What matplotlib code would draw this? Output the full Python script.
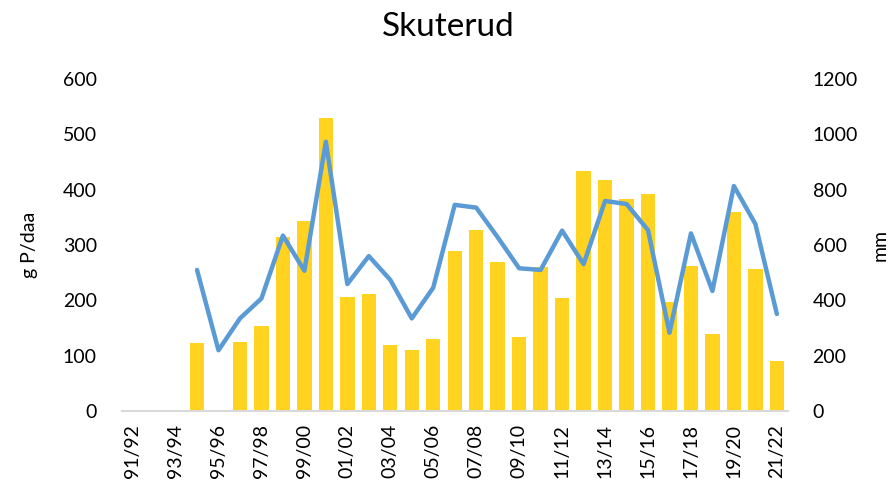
import numpy as np
import matplotlib.pyplot as plt

plt.rcParams['font.family'] = ['Lato', 'DejaVu Sans']

seasons = ['91/92', '92/93', '93/94', '94/95', '95/96', '96/97', '97/98', '98/99',
           '99/00', '00/01', '01/02', '02/03', '03/04', '04/05', '05/06', '06/07',
           '07/08', '08/09', '09/10', '10/11', '11/12', '12/13', '13/14', '14/15',
           '15/16', '16/17', '17/18', '18/19', '19/20', '20/21', '21/22']

# g P/daa (bars), NaN = missing
phosphorus = [np.nan, np.nan, np.nan, 123, np.nan, 124, 154, 314, 343, 530,
              206, 211, 119, 110, 131, 289, 328, 270, 134, 260,
              205, 434, 417, 383, 392, 198, 263, 139, 360, 257, 91]

# mm (line)
runoff = [np.nan, np.nan, np.nan, 510, 220, 335, 407, 634, 507, 973,
          459, 560, 474, 335, 446, 745, 735, 628, 516, 510,
          652, 531, 759, 748, 654, 283, 642, 434, 813, 676, 351]

x = np.arange(len(seasons))

fig = plt.figure(figsize=(8.96, 4.99), dpi=100)
ax = fig.add_axes([0.136, 0.176, 0.743, 0.666])
ax2 = ax.twinx()

ax.bar(x, phosphorus, width=0.67, color='#FFD320', zorder=2)
ax2.plot(x, runoff, color='#5B9BD5', lw=3.2, solid_capstyle='round', solid_joinstyle='round')

ax.set_xlim(-0.5, len(seasons) - 0.5)
ax.set_ylim(0, 600)
ax2.set_ylim(0, 1200)
ax.set_yticks(range(0, 601, 100))
ax2.set_yticks(range(0, 1201, 200))
ax.set_xticks(x[::2])
ax.set_xticklabels(seasons[::2], rotation=90, fontsize=14)

for a in (ax, ax2):
    for s in ['top', 'left', 'right']:
        a.spines[s].set_visible(False)
    a.tick_params(length=0, labelsize=14)
ax2.spines['bottom'].set_visible(False)
ax.spines['bottom'].set_color('#D9D9D9')
ax.spines['bottom'].set_linewidth(1.5)
ax.tick_params(axis='y', pad=18)
ax2.tick_params(axis='y', pad=18)
ax.tick_params(axis='x', pad=9)

ax.set_ylabel('g P/daa', fontsize=14, labelpad=18)
ax2.set_ylabel('mm', fontsize=14, labelpad=10)
fig.suptitle('Skuterud', fontsize=24, y=0.975)

plt.savefig('out.png')
